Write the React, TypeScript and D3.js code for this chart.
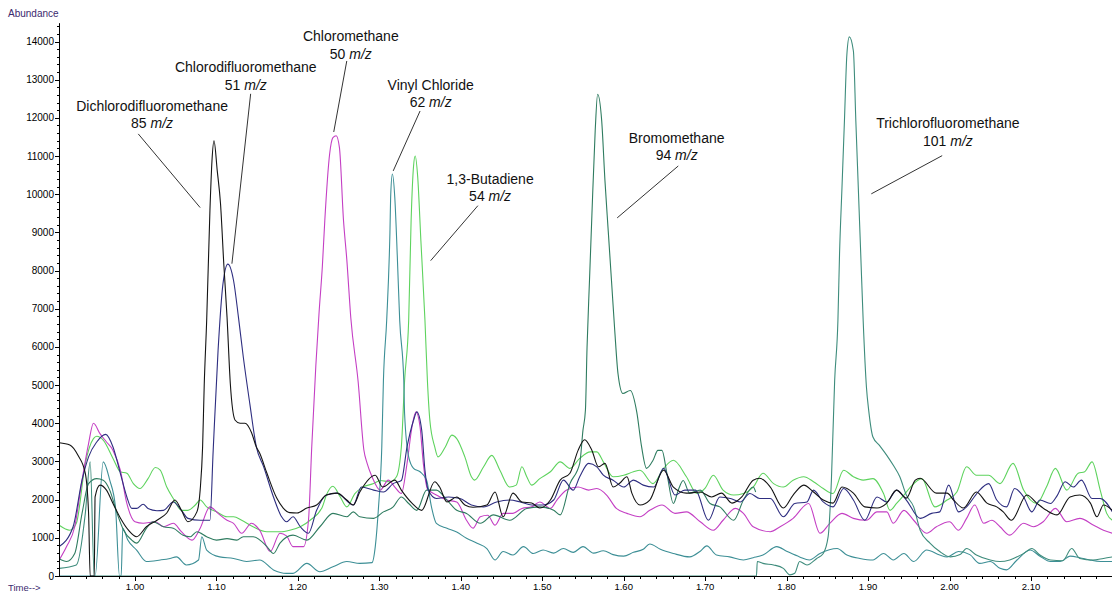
import React from "react";
import * as d3 from "d3";

type Pt = [number, number];

// Time (min) vs abundance for each extracted-ion trace
const dichloroTrace: Pt[] = [[0.907,3490],[0.920,3430],[0.930,3160],[0.939,2690],[0.943,1650],[0.945,0],[0.950,0],[0.951,2070],[0.957,2380],[0.965,2250],[0.973,1900],[0.982,1520],[0.992,1200],[1.002,1030],[1.014,1290],[1.027,1460],[1.039,1650],[1.049,1990],[1.057,1720],[1.065,1420],[1.076,1680],[1.080,2250],[1.083,3380],[1.085,5000],[1.088,6690],[1.092,9570],[1.0945,10870],[1.097,11400],[1.101,10610],[1.105,9750],[1.109,8180],[1.113,6780],[1.117,5050],[1.123,4080],[1.129,4000],[1.135,4000],[1.143,3760],[1.149,3380],[1.153,3220],[1.162,2690],[1.174,2040],[1.182,1780],[1.190,1660],[1.199,1650],[1.211,1780],[1.223,1860],[1.235,2120],[1.248,2170],[1.260,1990],[1.268,1860],[1.276,2200],[1.295,2640],[1.304,2330],[1.319,2510],[1.327,2250],[1.340,1910],[1.352,1720],[1.368,2470],[1.374,2330],[1.383,1940],[1.395,2070],[1.405,1860],[1.415,1800],[1.432,1860],[1.442,2200],[1.452,1550],[1.464,2170],[1.475,1940],[1.487,1910],[1.497,1780],[1.510,1990],[1.522,2510],[1.534,2690],[1.544,3290],[1.552,3570],[1.561,3290],[1.569,2860],[1.577,2950],[1.587,2330],[1.595,2430],[1.604,2600],[1.610,2170],[1.620,1860],[1.632,1990],[1.649,2770],[1.661,2330],[1.677,2170],[1.694,2200],[1.708,2070],[1.720,2170],[1.733,1910],[1.745,2070],[1.759,2510],[1.767,2560],[1.780,2330],[1.796,1780],[1.808,2120],[1.821,2380],[1.833,2200],[1.845,1990],[1.857,1910],[1.868,2330],[1.882,2170],[1.896,1810],[1.911,1780],[1.923,1910],[1.935,2250],[1.947,2040],[1.958,2510],[1.964,2560],[1.984,2170],[1.997,2170],[2.005,1990],[2.017,1780],[2.033,2200],[2.046,1910],[2.058,1810],[2.066,1680],[2.076,1460],[2.095,2120],[2.107,1910],[2.119,1720],[2.132,1600],[2.148,2070],[2.160,2120],[2.173,1910],[2.181,1550],[2.189,1860],[2.200,1720]];

const chlorodifluoroTrace: Pt[] = [[0.907,770],[0.924,1290],[0.935,2510],[0.943,3120],[0.953,3510],[0.964,3710],[0.973,3380],[0.982,2690],[0.990,2070],[0.996,1770],[1.002,1770],[1.010,1880],[1.016,1770],[1.027,1710],[1.035,1720],[1.047,1940],[1.057,1720],[1.065,1510],[1.080,1460],[1.092,1460],[1.096,3290],[1.102,5910],[1.108,7650],[1.114,8170],[1.121,7740],[1.127,6780],[1.133,5730],[1.141,4510],[1.149,3380],[1.158,2860],[1.170,2070],[1.180,1550],[1.186,1420],[1.194,1550],[1.203,1290],[1.213,1120],[1.223,1720],[1.235,2120],[1.248,2170],[1.268,1860],[1.278,2330],[1.293,2250],[1.305,2200],[1.317,2420],[1.327,2500],[1.334,3380],[1.342,4080],[1.346,4300],[1.352,3820],[1.356,2770],[1.360,2250],[1.370,2030],[1.385,2070],[1.399,2030],[1.413,1860],[1.428,1810],[1.444,1940],[1.460,1990],[1.473,1940],[1.487,1860],[1.501,1860],[1.514,1990],[1.526,2510],[1.538,2250],[1.546,2600],[1.557,2950],[1.567,2860],[1.575,2640],[1.587,2510],[1.600,2330],[1.612,2510],[1.624,2380],[1.637,2330],[1.649,2820],[1.663,2120],[1.675,2250],[1.688,2250],[1.704,1460],[1.718,2070],[1.731,2030],[1.743,1940],[1.755,2160],[1.767,2030],[1.780,2030],[1.796,1550],[1.810,1900],[1.825,1940],[1.833,2250],[1.845,1940],[1.857,1810],[1.870,2290],[1.882,1990],[1.896,1460],[1.911,2070],[1.923,1940],[1.935,2250],[1.947,1990],[1.964,1510],[1.978,1640],[1.988,1680],[1.999,2380],[2.011,1680],[2.021,1810],[2.035,2200],[2.048,2420],[2.058,1990],[2.070,1810],[2.080,2290],[2.091,2070],[2.101,1680],[2.111,1990],[2.124,1900],[2.132,2100],[2.142,2470],[2.152,2330],[2.162,2510],[2.175,2030],[2.185,2030],[2.200,1680]];

const chloromethaneTrace: Pt[] = [[0.907,420],[0.916,770],[0.926,1290],[0.935,2510],[0.943,3470],[0.949,4000],[0.957,3730],[0.965,3510],[0.973,3290],[0.982,2770],[0.990,1900],[1.000,1420],[1.010,1380],[1.025,1420],[1.035,1290],[1.047,1380],[1.057,1160],[1.070,940],[1.080,1250],[1.092,1810],[1.102,1640],[1.113,1460],[1.121,1380],[1.131,1120],[1.143,1380],[1.153,1200],[1.166,640],[1.178,1120],[1.186,1050],[1.194,770],[1.207,770],[1.213,1460],[1.217,3380],[1.222,5500],[1.226,6900],[1.230,8100],[1.233,9300],[1.239,11060],[1.243,11480],[1.247,11530],[1.251,11220],[1.256,9310],[1.260,8300],[1.265,6750],[1.274,5080],[1.281,3300],[1.285,2950],[1.291,2600],[1.301,2250],[1.311,2510],[1.319,2330],[1.327,2160],[1.334,2950],[1.340,3900],[1.345,4300],[1.350,3900],[1.354,2950],[1.359,2290],[1.370,2120],[1.383,1990],[1.395,1940],[1.407,1460],[1.415,1250],[1.424,1550],[1.433,1590],[1.442,1330],[1.452,1640],[1.464,1640],[1.475,1770],[1.487,1810],[1.497,1940],[1.510,1770],[1.518,1990],[1.530,2250],[1.544,2330],[1.557,2250],[1.567,2290],[1.579,2120],[1.591,1770],[1.604,1640],[1.620,1550],[1.632,1720],[1.647,1860],[1.663,1640],[1.677,1680],[1.694,1420],[1.710,1200],[1.722,1460],[1.737,1770],[1.747,1640],[1.759,1290],[1.780,1160],[1.792,1290],[1.808,1510],[1.827,1900],[1.841,1120],[1.853,1380],[1.868,1640],[1.882,1510],[1.898,1460],[1.911,1680],[1.923,1680],[1.931,1380],[1.944,1720],[1.956,1460],[1.972,1120],[1.984,1290],[2.000,1420],[2.011,1200],[2.021,1510],[2.031,1860],[2.042,1380],[2.052,1460],[2.062,1290],[2.074,1070],[2.091,1380],[2.103,1290],[2.115,1420],[2.130,1770],[2.144,1420],[2.160,1510],[2.177,1330],[2.189,1200],[2.200,1120]];

const vinylChlorideTrace: Pt[] = [[0.907,0],[0.951,0],[0.961,2990],[0.969,2510],[0.976,1810],[0.981,0],[0.983,0],[0.985,1250],[0.991,950],[1.002,680],[1.014,380],[1.031,420],[1.043,460],[1.051,500],[1.063,290],[1.078,420],[1.082,1030],[1.088,680],[1.104,500],[1.121,460],[1.137,380],[1.153,420],[1.170,160],[1.186,70],[1.194,70],[1.211,330],[1.227,110],[1.243,240],[1.260,380],[1.276,330],[1.291,350],[1.295,770],[1.299,1810],[1.303,3380],[1.305,5120],[1.309,6690],[1.313,9000],[1.314,10000],[1.316,10530],[1.319,9900],[1.322,8400],[1.325,6690],[1.330,5120],[1.331,4250],[1.336,3120],[1.342,2820],[1.350,2730],[1.358,2510],[1.364,1810],[1.370,1380],[1.383,1250],[1.395,1150],[1.407,990],[1.420,860],[1.432,720],[1.442,420],[1.452,640],[1.464,550],[1.477,770],[1.489,590],[1.501,680],[1.514,600],[1.526,720],[1.538,620],[1.550,770],[1.563,600],[1.575,660],[1.587,560],[1.600,520],[1.612,620],[1.624,700],[1.632,840],[1.645,700],[1.661,590],[1.681,500],[1.694,650],[1.702,790],[1.714,550],[1.730,500],[1.747,420],[1.759,480],[1.771,550],[1.788,770],[1.800,650],[1.816,500],[1.828,420],[1.841,590],[1.862,720],[1.874,550],[1.890,460],[1.906,420],[1.919,590],[1.931,420],[1.944,590],[1.956,380],[1.972,680],[1.988,550],[1.997,500],[2.011,640],[2.025,560],[2.037,330],[2.050,380],[2.062,200],[2.070,160],[2.082,400],[2.099,680],[2.111,520],[2.124,380],[2.136,380],[2.148,520],[2.160,480],[2.172,420],[2.185,380],[2.200,380]];

const butadieneTrace: Pt[] = [[0.907,1330],[0.920,1200],[0.928,1380],[0.939,2950],[0.949,3600],[0.953,3660],[0.961,3560],[0.973,3080],[0.982,2730],[0.990,2690],[0.998,2420],[1.006,2290],[1.016,2550],[1.025,2840],[1.031,2770],[1.039,2330],[1.047,2030],[1.057,1720],[1.065,1720],[1.074,1860],[1.080,1990],[1.088,1810],[1.100,1680],[1.113,1550],[1.121,1550],[1.131,1460],[1.145,1290],[1.162,1160],[1.178,1160],[1.190,1200],[1.203,1290],[1.215,1460],[1.230,1810],[1.235,2120],[1.243,2350],[1.252,2070],[1.260,1810],[1.270,2160],[1.280,2330],[1.293,2420],[1.301,2500],[1.313,2470],[1.321,2600],[1.327,3380],[1.331,5120],[1.336,6690],[1.339,9310],[1.342,10740],[1.344,11000],[1.347,10480],[1.351,8780],[1.356,6690],[1.359,5120],[1.362,4080],[1.368,3380],[1.372,3120],[1.381,3380],[1.389,3690],[1.395,3600],[1.405,3120],[1.413,2600],[1.417,2510],[1.428,2860],[1.438,3160],[1.448,2770],[1.460,2330],[1.468,2380],[1.475,2860],[1.481,2600],[1.487,2380],[1.497,2550],[1.510,2730],[1.522,2990],[1.534,2820],[1.546,3080],[1.559,3250],[1.567,3250],[1.575,2990],[1.587,2600],[1.600,2640],[1.612,2730],[1.620,2770],[1.636,2420],[1.649,2820],[1.661,3030],[1.677,2600],[1.690,2160],[1.700,2300],[1.710,2640],[1.722,2250],[1.735,2120],[1.747,2160],[1.759,2330],[1.771,2690],[1.784,2420],[1.796,2330],[1.808,2510],[1.821,2600],[1.833,2470],[1.845,2290],[1.857,2160],[1.870,2770],[1.882,2600],[1.894,2510],[1.906,2550],[1.919,2160],[1.927,1720],[1.935,1900],[1.944,2120],[1.952,2330],[1.966,2550],[1.982,1810],[1.997,1990],[2.009,2200],[2.021,2860],[2.033,2640],[2.048,2640],[2.062,2420],[2.078,2950],[2.091,2250],[2.107,1900],[2.119,2330],[2.130,2820],[2.144,2250],[2.158,2690],[2.166,2730],[2.175,2990],[2.185,2250],[2.193,1640],[2.200,1460]];

const bromomethaneTrace: Pt[] = [[0.907,450],[0.916,380],[0.926,590],[0.935,1640],[0.943,2420],[0.953,2550],[0.961,2510],[0.969,2250],[0.978,1640],[0.986,1200],[0.996,940],[1.002,860],[1.014,1250],[1.022,1420],[1.035,1290],[1.047,1250],[1.059,1070],[1.068,1030],[1.076,1160],[1.088,1030],[1.100,940],[1.113,980],[1.125,940],[1.133,1030],[1.145,1030],[1.162,770],[1.170,590],[1.178,860],[1.194,1070],[1.211,940],[1.227,1290],[1.243,1640],[1.260,1550],[1.268,1680],[1.276,1550],[1.293,1510],[1.305,1680],[1.317,1810],[1.327,2070],[1.336,1900],[1.346,1720],[1.358,2250],[1.370,2250],[1.383,1990],[1.395,1720],[1.407,1640],[1.424,1380],[1.440,1600],[1.460,1460],[1.481,1770],[1.497,1810],[1.514,1720],[1.522,1600],[1.534,2420],[1.546,2950],[1.550,3820],[1.553,4340],[1.555,5990],[1.558,7740],[1.561,9480],[1.565,11660],[1.568,12620],[1.573,11920],[1.577,10350],[1.581,9040],[1.585,7740],[1.589,6430],[1.593,5300],[1.599,4780],[1.608,4860],[1.616,4300],[1.622,3380],[1.628,2820],[1.636,3030],[1.642,3290],[1.647,3290],[1.653,2690],[1.661,1900],[1.667,2250],[1.673,2500],[1.681,2170],[1.694,2250],[1.706,1900],[1.718,1810],[1.735,1460],[1.747,1990],[1.759,2330],[1.762,2200]];

const trichlorofluoroTrace: Pt[] = [[0.907,200],[0.928,290],[0.939,1640],[0.945,2990],[0.950,0],[1.763,0],[1.764,380],[1.771,330],[1.784,290],[1.796,200],[1.804,30],[1.810,70],[1.816,380],[1.825,290],[1.837,460],[1.845,590],[1.851,1030],[1.855,2510],[1.859,5120],[1.863,6690],[1.865,8440],[1.868,10180],[1.871,11920],[1.874,13660],[1.877,14120],[1.882,13750],[1.885,11920],[1.888,10180],[1.891,8440],[1.894,6690],[1.898,4950],[1.901,4300],[1.906,3640],[1.914,3420],[1.923,3160],[1.931,2900],[1.939,2600],[1.947,2120],[1.956,1810],[1.964,1200],[1.976,860],[1.988,640],[2.001,500],[2.013,560],[2.021,720],[2.033,550],[2.050,420],[2.062,380],[2.074,420],[2.091,590],[2.101,720],[2.111,550],[2.124,420],[2.139,400],[2.150,720],[2.160,460],[2.176,420],[2.189,460],[2.200,500]];

const yMajorTicks = d3.range(0, 14001, 1000);
const xMajorTicks = [1.0, 1.1, 1.2, 1.3, 1.4, 1.5, 1.6, 1.7, 1.8, 1.9, 2.0, 2.1];
const xLabels = ["1.00", "1.10", "1.20", "1.30", "1.40", "1.50", "1.60", "1.70", "1.80", "1.90", "2.00", "2.10"];

const traceNames = ["1,3-Butadiene", "Chloromethane", "Vinyl Chloride", "Bromomethane", "Trichlorofluoromethane", "Chlorodifluoromethane", "Dichlorodifluoromethane"];
const traceData = [butadieneTrace, chloromethaneTrace, vinylChlorideTrace, bromomethaneTrace, trichlorofluoroTrace, chlorodifluoroTrace, dichloroTrace];
const traceColors = ["#5ed35e", "#c43fc4", "#3d8f96", "#2f7c60", "#3e8c7c", "#2e2e80", "#141414"];

// annotation: name, ion, label anchor (time, abundance), leader from/to (time, abundance)
const annNames = ["Dichlorodifluoromethane", "Chlorodifluoromethane", "Chloromethane", "Vinyl Chloride", "1,3-Butadiene", "Bromomethane", "Trichlorofluoromethane"];
const annIons = ["85", "51", "50", "62", "54", "94", "101"];
const annLabelT = [1.021, 1.136, 1.265, 1.363, 1.436, 1.665, 1.998];
const annLabelV = [12180, 13200, 14010, 12730, 10270, 11350, 11730];
const annFrom: Pt[] = [[1.004, 11580], [1.142, 12630], [1.260, 13490], [1.350, 12180], [1.421, 9700], [1.667, 10740], [1.991, 11010]];
const annTo: Pt[] = [[1.080, 9650], [1.119, 8180], [1.244, 11630], [1.317, 10610], [1.363, 8260], [1.592, 9380], [1.904, 10010]];

export default function App() {
  const W = 1112, H = 592;
  const left = 59, right = 1112, bottom = 576;
  const x = d3.scaleLinear().domain([0.9067, 2.1995]).range([left, right]);
  const y = d3.scaleLinear().domain([0, 14000]).range([bottom, 41.5]);
  const axisTop = y(14480);
  const line = d3.line<Pt>().x(d => x(d[0])).y(d => y(d[1])).curve(d3.curveMonotoneX);
  const font = "'Liberation Sans', Arial, sans-serif";

  const yMinor = d3.range(200, 14500, 200).filter(v => v % 1000 !== 0);
  const xMinor = d3.range(46, 110, 1).map(i => i * 0.02).filter(t => Math.round(t * 100) % 10 !== 0 && x(t) > left && x(t) <= right);

  return (
    <svg width={W} height={H} style={{ position: "absolute", left: 0, top: 0, background: "#fff" }} fontFamily={font}>
      <rect x={0} y={0} width={W} height={H} fill="#fff" />
      <defs>
        <clipPath id="plot">
          <rect x={left} y={0} width={right - left} height={bottom + 0.5} />
        </clipPath>
      </defs>
      <g clipPath="url(#plot)">
        {traceData.map((d, i) => (
          <path key={traceNames[i]} d={line(d) || ""} fill="none" stroke={traceColors[i]} strokeWidth={1.1} strokeLinejoin="round" />
        ))}
      </g>
      {/* axes */}
      <line x1={left + 0.5} x2={left + 0.5} y1={axisTop} y2={bottom + 0.5} stroke="#000" strokeWidth={1} />
      <line x1={left} x2={right} y1={bottom + 0.5} y2={bottom + 0.5} stroke="#000" strokeWidth={1} />
      {yMajorTicks.map(v => (
        <g key={"ym" + v}>
          <line x1={left - 4} x2={left} y1={Math.round(y(v)) + 0.5} y2={Math.round(y(v)) + 0.5} stroke="#000" />
          <text x={left - 5} y={y(v) + 3.5} fontSize={10} textAnchor="end" fill="#000">{v}</text>
        </g>
      ))}
      {yMinor.map(v => (
        <line key={"yn" + v} x1={left - 2} x2={left} y1={Math.round(y(v)) + 0.5} y2={Math.round(y(v)) + 0.5} stroke="#000" />
      ))}
      {xMajorTicks.map((t, i) => (
        <g key={"xm" + t}>
          <line x1={Math.round(x(t)) + 0.5} x2={Math.round(x(t)) + 0.5} y1={bottom} y2={bottom + 5} stroke="#000" />
          <text x={x(t)} y={590} fontSize={9.5} textAnchor="middle" fill="#000">{xLabels[i]}</text>
        </g>
      ))}
      {xMinor.map(t => (
        <line key={"xn" + t.toFixed(2)} x1={Math.round(x(t)) + 0.5} x2={Math.round(x(t)) + 0.5} y1={bottom} y2={bottom + 3} stroke="#000" />
      ))}
      <text x={8} y={17} fontSize={10} fill="#3b2a6e">Abundance</text>
      <text x={8} y={591} fontSize={9.5} fill="#3b2a6e">Time--&gt;</text>
      {/* annotations */}
      {annNames.map((n, i) => (
        <g key={"a" + n}>
          <text x={x(annLabelT[i])} y={y(annLabelV[i])} fontSize={14} textAnchor="middle" fill="#111">{n}</text>
          <text x={x(annLabelT[i])} y={y(annLabelV[i]) + 17.5} fontSize={14} textAnchor="middle" fill="#111">
            {annIons[i] + " "}<tspan fontStyle="italic">m/z</tspan>
          </text>
          <line x1={x(annFrom[i][0])} y1={y(annFrom[i][1])} x2={x(annTo[i][0])} y2={y(annTo[i][1])} stroke="#333" strokeWidth={1} />
        </g>
      ))}
    </svg>
  );
}
